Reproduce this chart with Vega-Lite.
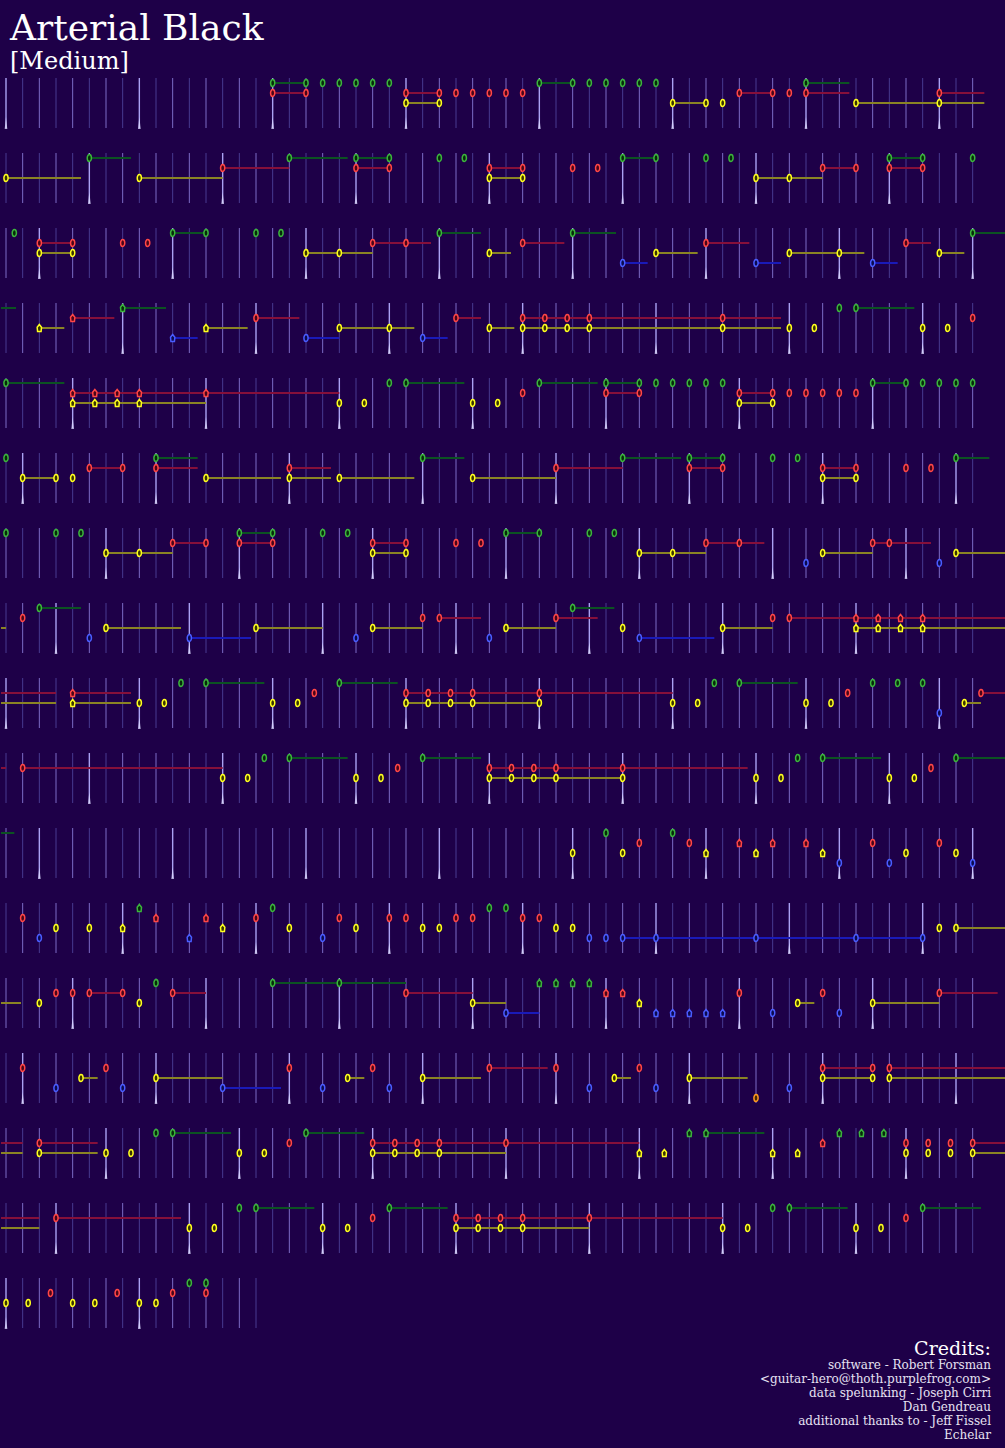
{
"$schema": "https://vega.github.io/schema/vega-lite/v6.json",
"background": "#1e0048",
"padding": {"top": 10, "left": 0, "right": 0, "bottom": 0},
"config": {"view": {"stroke": null}, "concat": {"spacing": 10}},
"title": {"text": "Arterial Black", "subtitle": "[Medium]", "anchor": "start", "dx": 10, "font": "DejaVu Serif", "fontSize": 36, "fontWeight": "normal", "color": "#ffffff", "subtitleFont": "DejaVu Serif", "subtitleFontSize": 24, "subtitleColor": "#ffffff", "subtitlePadding": 2, "offset": 2},
"vconcat": [
{
"bounds": "flush",
"data": {"values": [
{"r":1,"L":[0,1,2,3,4,5,6,7,8,9,10,11,12,13,14,15,16,17,18,19,20,21,22,23,24,25,26,27,28,29,30,31,32,33,34,35,36,37,38,39,40,41,42,43,44,45,46,47,48,49,50,51,52,53,54,55,56,57,58]},
{"r":2,"L":[0,1,2,3,4,5,6,7,8,9,10,11,12,13,14,15,16,17,18,19,20,21,22,23,24,25,26,27,28,29,30,31,32,33,34,35,36,37,38,39,40,41,42,43,44,45,46,47,48,49,50,51,52,53,54,55,56,57,58]},
{"r":3,"L":[0,1,2,3,4,5,6,7,8,9,10,11,12,13,14,15,16,17,18,19,20,21,22,23,24,25,26,27,28,29,30,31,32,33,34,35,36,37,38,39,40,41,42,43,44,45,46,47,48,49,50,51,52,53,54,55,56,57,58]},
{"r":4,"L":[0,1,2,3,4,5,6,7,8,9,10,11,12,13,14,15,16,17,18,19,20,21,22,23,24,25,26,27,28,29,30,31,32,33,34,35,36,37,38,39,40,41,42,43,44,45,46,47,48,49,50,51,52,53,54,55,56,57,58]},
{"r":5,"L":[0,1,2,3,4,5,6,7,8,9,10,11,12,13,14,15,16,17,18,19,20,21,22,23,24,25,26,27,28,29,30,31,32,33,34,35,36,37,38,39,40,41,42,43,44,45,46,47,48,49,50,51,52,53,54,55,56,57,58]},
{"r":6,"L":[0,1,2,3,4,5,6,7,8,9,10,11,12,13,14,15,16,17,18,19,20,21,22,23,24,25,26,27,28,29,30,31,32,33,34,35,36,37,38,39,40,41,42,43,44,45,46,47,48,49,50,51,52,53,54,55,56,57,58]},
{"r":7,"L":[0,1,2,3,4,5,6,7,8,9,10,11,12,13,14,15,16,17,18,19,20,21,22,23,24,25,26,27,28,29,30,31,32,33,34,35,36,37,38,39,40,41,42,43,44,45,46,47,48,49,50,51,52,53,54,55,56,57,58]},
{"r":8,"L":[0,1,2,3,4,5,6,7,8,9,10,11,12,13,14,15,16,17,18,19,20,21,22,23,24,25,26,27,28,29,30,31,32,33,34,35,36,37,38,39,40,41,42,43,44,45,46,47,48,49,50,51,52,53,54,55,56,57,58]},
{"r":9,"L":[0,1,2,3,4,5,6,7,8,9,10,11,12,13,14,15,16,17,18,19,20,21,22,23,24,25,26,27,28,29,30,31,32,33,34,35,36,37,38,39,40,41,42,43,44,45,46,47,48,49,50,51,52,53,54,55,56,57,58]},
{"r":10,"L":[0,1,2,3,4,5,6,7,8,9,10,11,12,13,14,15,16,17,18,19,20,21,22,23,24,25,26,27,28,29,30,31,32,33,34,35,36,37,38,39,40,41,42,43,44,45,46,47,48,49,50,51,52,53,54,55,56,57,58]},
{"r":11,"L":[0,1,2,3,4,5,6,7,8,9,10,11,12,13,14,15,16,17,18,19,20,21,22,23,24,25,26,27,28,29,30,31,32,33,34,35,36,37,38,39,40,41,42,43,44,45,46,47,48,49,50,51,52,53,54,55,56,57,58]},
{"r":12,"L":[0,1,2,3,4,5,6,7,8,9,10,11,12,13,14,15,16,17,18,19,20,21,22,23,24,25,26,27,28,29,30,31,32,33,34,35,36,37,38,39,40,41,42,43,44,45,46,47,48,49,50,51,52,53,54,55,56,57,58]},
{"r":13,"L":[0,1,2,3,4,5,6,7,8,9,10,11,12,13,14,15,16,17,18,19,20,21,22,23,24,25,26,27,28,29,30,31,32,33,34,35,36,37,38,39,40,41,42,43,44,45,46,47,48,49,50,51,52,53,54,55,56,57,58]},
{"r":14,"L":[0,1,2,3,4,5,6,7,8,9,10,11,12,13,14,15,16,17,18,19,20,21,22,23,24,25,26,27,28,29,30,31,32,33,34,35,36,37,38,39,40,41,42,43,44,45,46,47,48,49,50,51,52,53,54,55,56,57,58]},
{"r":15,"L":[0,1,2,3,4,5,6,7,8,9,10,11,12,13,14,15,16,17,18,19,20,21,22,23,24,25,26,27,28,29,30,31,32,33,34,35,36,37,38,39,40,41,42,43,44,45,46,47,48,49,50,51,52,53,54,55,56,57,58]},
{"r":16,"L":[0,1,2,3,4,5,6,7,8,9,10,11,12,13,14,15,16,17,18,19,20,21,22,23,24,25,26,27,28,29,30,31,32,33,34,35,36,37,38,39,40,41,42,43,44,45,46,47,48,49,50,51,52,53,54,55,56,57,58]},
{"r":17,"L":[0,1,2,3,4,5,6,7,8,9,10,11,12,13,14,15]},

{"r":1,"a":16,"e":18,"c":0},{"r":1,"a":16,"e":18,"c":1},{"r":1,"a":24,"e":26,"c":1},{"r":1,"a":24,"e":26,"c":2},{"r":1,"a":32,"e":34,"c":0},{"r":1,"a":40,"e":42,"c":2},{"r":1,"a":44,"e":46,"c":1},{"r":1,"a":48,"e":50.6,"c":1},{"r":1,"a":48,"e":50.6,"c":0},{"r":1,"a":51,"e":56,"c":2},{"r":1,"a":56,"e":58.7,"c":2},{"r":1,"a":56,"e":58.7,"c":1},
{"r":1,"u":16,"c":0},{"r":1,"u":18,"c":0},{"r":1,"u":19,"c":0},{"r":1,"u":20,"c":0},{"r":1,"u":21,"c":0},{"r":1,"u":22,"c":0},{"r":1,"u":23,"c":0},{"r":1,"u":32,"c":0},{"r":1,"u":34,"c":0},{"r":1,"u":35,"c":0},{"r":1,"u":36,"c":0},{"r":1,"u":37,"c":0},{"r":1,"u":38,"c":0},{"r":1,"u":39,"c":0},{"r":1,"u":48,"c":0},
{"r":1,"u":16,"c":1},{"r":1,"u":18,"c":1},{"r":1,"u":24,"c":1},{"r":1,"u":26,"c":1},{"r":1,"u":27,"c":1},{"r":1,"u":28,"c":1},{"r":1,"u":29,"c":1},{"r":1,"u":30,"c":1},{"r":1,"u":31,"c":1},{"r":1,"u":44,"c":1},{"r":1,"u":46,"c":1},{"r":1,"u":47,"c":1},{"r":1,"u":48,"c":1},{"r":1,"u":56,"c":1},
{"r":1,"u":24,"c":2},{"r":1,"u":26,"c":2},{"r":1,"u":40,"c":2},{"r":1,"u":42,"c":2},{"r":1,"u":43,"c":2},{"r":1,"u":51,"c":2},{"r":1,"u":56,"c":2},

{"r":2,"a":0,"e":4.5,"c":2},{"r":2,"a":5,"e":7.5,"c":0},{"r":2,"a":8,"e":13,"c":2},{"r":2,"a":13,"e":17,"c":1},{"r":2,"a":17,"e":20.5,"c":0},{"r":2,"a":21,"e":23,"c":0},{"r":2,"a":21,"e":23,"c":1},{"r":2,"a":29,"e":31,"c":1},{"r":2,"a":29,"e":31,"c":2},{"r":2,"a":37,"e":39,"c":0},{"r":2,"a":45,"e":47,"c":2},{"r":2,"a":47,"e":49,"c":2},{"r":2,"a":49,"e":51,"c":1},{"r":2,"a":53,"e":55,"c":1},{"r":2,"a":53,"e":55,"c":0},
{"r":2,"u":0,"c":2},{"r":2,"u":8,"c":2},{"r":2,"u":29,"c":2},{"r":2,"u":31,"c":2},{"r":2,"u":45,"c":2},{"r":2,"u":47,"c":2},
{"r":2,"u":5,"c":0},{"r":2,"u":17,"c":0},{"r":2,"u":21,"c":0},{"r":2,"u":23,"c":0},{"r":2,"u":26,"c":0},{"r":2,"u":27.5,"c":0},{"r":2,"u":37,"c":0},{"r":2,"u":39,"c":0},{"r":2,"u":42,"c":0},{"r":2,"u":43.5,"c":0},{"r":2,"u":53,"c":0},{"r":2,"u":55,"c":0},{"r":2,"u":58,"c":0},
{"r":2,"u":13,"c":1},{"r":2,"u":21,"c":1},{"r":2,"u":23,"c":1},{"r":2,"u":29,"c":1},{"r":2,"u":31,"c":1},{"r":2,"u":34,"c":1},{"r":2,"u":35.5,"c":1},{"r":2,"u":49,"c":1},{"r":2,"u":51,"c":1},{"r":2,"u":53,"c":1},{"r":2,"u":55,"c":1},

{"r":3,"a":2,"e":4,"c":1},{"r":3,"a":2,"e":4,"c":2},{"r":3,"a":10,"e":12,"c":0},{"r":3,"a":18,"e":20,"c":2},{"r":3,"a":20,"e":22,"c":2},{"r":3,"a":22,"e":24,"c":1},{"r":3,"a":24,"e":25.5,"c":1},{"r":3,"a":26,"e":28.5,"c":0},{"r":3,"a":29,"e":30.3,"c":2},{"r":3,"a":31,"e":33.5,"c":1},{"r":3,"a":34,"e":36.6,"c":0},{"r":3,"a":37,"e":38.5,"c":3},{"r":3,"a":39,"e":41.5,"c":2},{"r":3,"a":42,"e":44.6,"c":1},{"r":3,"a":45,"e":46.5,"c":3},{"r":3,"a":47,"e":50,"c":2},{"r":3,"a":50,"e":51.5,"c":2},{"r":3,"a":52,"e":53.5,"c":3},{"r":3,"a":54,"e":55.5,"c":1},{"r":3,"a":56,"e":57.5,"c":2},{"r":3,"a":58,"e":60,"c":0},
{"r":3,"u":0.5,"c":0},{"r":3,"u":10,"c":0},{"r":3,"u":12,"c":0},{"r":3,"u":15,"c":0},{"r":3,"u":16.5,"c":0},{"r":3,"u":26,"c":0},{"r":3,"u":34,"c":0},{"r":3,"u":58,"c":0},
{"r":3,"u":2,"c":1},{"r":3,"u":4,"c":1},{"r":3,"u":7,"c":1},{"r":3,"u":8.5,"c":1},{"r":3,"u":22,"c":1},{"r":3,"u":24,"c":1},{"r":3,"u":31,"c":1},{"r":3,"u":42,"c":1},{"r":3,"u":54,"c":1},
{"r":3,"u":2,"c":2},{"r":3,"u":4,"c":2},{"r":3,"u":18,"c":2},{"r":3,"u":20,"c":2},{"r":3,"u":29,"c":2},{"r":3,"u":39,"c":2},{"r":3,"u":47,"c":2},{"r":3,"u":50,"c":2},{"r":3,"u":56,"c":2},
{"r":3,"u":37,"c":3},{"r":3,"u":45,"c":3},{"r":3,"u":52,"c":3},

{"r":4,"a":-0.3,"e":0.6,"c":0},{"r":4,"a":2,"e":3.5,"c":2},{"r":4,"a":4,"e":6.5,"c":1},{"r":4,"a":7,"e":9.6,"c":0},{"r":4,"a":10,"e":11.5,"c":3},{"r":4,"a":12,"e":14.5,"c":2},{"r":4,"a":15,"e":17.6,"c":1},{"r":4,"a":18,"e":20,"c":3},{"r":4,"a":20,"e":23,"c":2},{"r":4,"a":23,"e":24.5,"c":2},{"r":4,"a":25,"e":26.5,"c":3},{"r":4,"a":27,"e":28.5,"c":1},{"r":4,"a":29,"e":30.5,"c":2},{"r":4,"a":31,"e":46.5,"c":1},{"r":4,"a":31,"e":46.5,"c":2},{"r":4,"a":51,"e":54.5,"c":0},
{"r":4,"u":2,"c":2,"s":1},{"r":4,"u":4,"c":1,"s":1},{"r":4,"u":7,"c":0,"s":1},{"r":4,"u":10,"c":3,"s":1},{"r":4,"u":12,"c":2,"s":1},{"r":4,"u":15,"c":1},{"r":4,"u":18,"c":3},{"r":4,"u":20,"c":2},{"r":4,"u":23,"c":2},{"r":4,"u":25,"c":3},{"r":4,"u":27,"c":1},{"r":4,"u":29,"c":2},
{"r":4,"u":31,"c":1},{"r":4,"u":32.33,"c":1},{"r":4,"u":33.67,"c":1},{"r":4,"u":35,"c":1},{"r":4,"u":43,"c":1},{"r":4,"u":58,"c":1},
{"r":4,"u":31,"c":2},{"r":4,"u":32.33,"c":2},{"r":4,"u":33.67,"c":2},{"r":4,"u":35,"c":2},{"r":4,"u":43,"c":2},{"r":4,"u":47,"c":2},{"r":4,"u":48.5,"c":2},{"r":4,"u":55,"c":2},{"r":4,"u":56.5,"c":2},
{"r":4,"u":50,"c":0},{"r":4,"u":51,"c":0},

{"r":5,"a":0,"e":3.5,"c":0},{"r":5,"a":4,"e":20,"c":1},{"r":5,"a":4,"e":12,"c":2},{"r":5,"a":24,"e":27.5,"c":0},{"r":5,"a":32,"e":35.5,"c":0},{"r":5,"a":36,"e":38,"c":0},{"r":5,"a":36,"e":38,"c":1},{"r":5,"a":44,"e":46,"c":1},{"r":5,"a":44,"e":46,"c":2},{"r":5,"a":52,"e":54,"c":0},
{"r":5,"u":0,"c":0},{"r":5,"u":23,"c":0},{"r":5,"u":24,"c":0},{"r":5,"u":32,"c":0},{"r":5,"u":36,"c":0},{"r":5,"u":38,"c":0},{"r":5,"u":39,"c":0},{"r":5,"u":40,"c":0},{"r":5,"u":41,"c":0},{"r":5,"u":42,"c":0},{"r":5,"u":43,"c":0},{"r":5,"u":52,"c":0},{"r":5,"u":54,"c":0},{"r":5,"u":55,"c":0},{"r":5,"u":56,"c":0},{"r":5,"u":57,"c":0},{"r":5,"u":58,"c":0},
{"r":5,"u":4,"c":1,"s":1},{"r":5,"u":5.33,"c":1,"s":1},{"r":5,"u":6.67,"c":1,"s":1},{"r":5,"u":8,"c":1,"s":1},{"r":5,"u":12,"c":1,"s":1},{"r":5,"u":31,"c":1},{"r":5,"u":36,"c":1},{"r":5,"u":38,"c":1},{"r":5,"u":44,"c":1},{"r":5,"u":46,"c":1},{"r":5,"u":47,"c":1},{"r":5,"u":48,"c":1},{"r":5,"u":49,"c":1},{"r":5,"u":50,"c":1},{"r":5,"u":51,"c":1},
{"r":5,"u":4,"c":2,"s":1},{"r":5,"u":5.33,"c":2,"s":1},{"r":5,"u":6.67,"c":2,"s":1},{"r":5,"u":8,"c":2,"s":1},{"r":5,"u":20,"c":2},{"r":5,"u":21.5,"c":2},{"r":5,"u":28,"c":2},{"r":5,"u":29.5,"c":2},{"r":5,"u":44,"c":2},{"r":5,"u":46,"c":2},

{"r":6,"a":1,"e":3,"c":2},{"r":6,"a":5,"e":7,"c":1},{"r":6,"a":9,"e":11.5,"c":1},{"r":6,"a":9,"e":11.5,"c":0},{"r":6,"a":12,"e":16.5,"c":2},{"r":6,"a":17,"e":19.5,"c":1},{"r":6,"a":17,"e":19.5,"c":2},{"r":6,"a":20,"e":24.5,"c":2},{"r":6,"a":25,"e":27.5,"c":0},{"r":6,"a":28,"e":33,"c":2},{"r":6,"a":33,"e":37,"c":1},{"r":6,"a":37,"e":40.5,"c":0},{"r":6,"a":41,"e":43,"c":0},{"r":6,"a":41,"e":43,"c":1},{"r":6,"a":49,"e":51,"c":1},{"r":6,"a":49,"e":51,"c":2},{"r":6,"a":57,"e":59,"c":0},
{"r":6,"u":0,"c":0},{"r":6,"u":9,"c":0},{"r":6,"u":25,"c":0},{"r":6,"u":37,"c":0},{"r":6,"u":41,"c":0},{"r":6,"u":43,"c":0},{"r":6,"u":46,"c":0},{"r":6,"u":47.5,"c":0},{"r":6,"u":57,"c":0},
{"r":6,"u":5,"c":1},{"r":6,"u":7,"c":1},{"r":6,"u":9,"c":1},{"r":6,"u":17,"c":1},{"r":6,"u":33,"c":1},{"r":6,"u":41,"c":1},{"r":6,"u":43,"c":1},{"r":6,"u":49,"c":1},{"r":6,"u":51,"c":1},{"r":6,"u":54,"c":1},{"r":6,"u":55.5,"c":1},
{"r":6,"u":1,"c":2},{"r":6,"u":3,"c":2},{"r":6,"u":4,"c":2},{"r":6,"u":12,"c":2},{"r":6,"u":17,"c":2},{"r":6,"u":20,"c":2},{"r":6,"u":28,"c":2},{"r":6,"u":49,"c":2},{"r":6,"u":51,"c":2},

{"r":7,"a":6,"e":8,"c":2},{"r":7,"a":8,"e":10,"c":2},{"r":7,"a":10,"e":12,"c":1},{"r":7,"a":14,"e":16,"c":1},{"r":7,"a":14,"e":16,"c":0},{"r":7,"a":22,"e":24,"c":1},{"r":7,"a":22,"e":24,"c":2},{"r":7,"a":30,"e":32,"c":0},{"r":7,"a":38,"e":40,"c":2},{"r":7,"a":40,"e":42,"c":2},{"r":7,"a":42,"e":44,"c":1},{"r":7,"a":44,"e":45.5,"c":1},{"r":7,"a":49,"e":52,"c":2},{"r":7,"a":52,"e":53,"c":1},{"r":7,"a":53,"e":55.5,"c":1},{"r":7,"a":57,"e":60,"c":2},
{"r":7,"u":0,"c":0},{"r":7,"u":3,"c":0},{"r":7,"u":4.5,"c":0},{"r":7,"u":14,"c":0},{"r":7,"u":16,"c":0},{"r":7,"u":19,"c":0},{"r":7,"u":20.5,"c":0},{"r":7,"u":30,"c":0},{"r":7,"u":32,"c":0},{"r":7,"u":35,"c":0},{"r":7,"u":36.5,"c":0},
{"r":7,"u":10,"c":1},{"r":7,"u":12,"c":1},{"r":7,"u":14,"c":1},{"r":7,"u":16,"c":1},{"r":7,"u":22,"c":1},{"r":7,"u":24,"c":1},{"r":7,"u":27,"c":1},{"r":7,"u":28.5,"c":1},{"r":7,"u":42,"c":1},{"r":7,"u":44,"c":1},{"r":7,"u":52,"c":1},{"r":7,"u":53,"c":1},
{"r":7,"u":6,"c":2},{"r":7,"u":8,"c":2},{"r":7,"u":22,"c":2},{"r":7,"u":24,"c":2},{"r":7,"u":38,"c":2},{"r":7,"u":40,"c":2},{"r":7,"u":49,"c":2},{"r":7,"u":57,"c":2},
{"r":7,"u":48,"c":3},{"r":7,"u":56,"c":3},

{"r":8,"a":-0.3,"e":0,"c":2},{"r":8,"a":2,"e":4.5,"c":0},{"r":8,"a":6,"e":10.5,"c":2},{"r":8,"a":11,"e":14.7,"c":3},{"r":8,"a":15,"e":19,"c":2},{"r":8,"a":22,"e":25,"c":2},{"r":8,"a":26,"e":28.5,"c":1},{"r":8,"a":30,"e":33,"c":2},{"r":8,"a":33,"e":35.5,"c":1},{"r":8,"a":34,"e":36.5,"c":0},{"r":8,"a":38,"e":42.5,"c":3},{"r":8,"a":43,"e":46,"c":2},{"r":8,"a":47,"e":51,"c":1},{"r":8,"a":51,"e":60,"c":1},{"r":8,"a":51,"e":60,"c":2},
{"r":8,"u":1,"c":1},{"r":8,"u":25,"c":1},{"r":8,"u":26,"c":1},{"r":8,"u":33,"c":1},{"r":8,"u":46,"c":1},{"r":8,"u":47,"c":1},{"r":8,"u":51,"c":1,"s":1},{"r":8,"u":52.33,"c":1,"s":1},{"r":8,"u":53.67,"c":1,"s":1},{"r":8,"u":55,"c":1,"s":1},
{"r":8,"u":2,"c":0},{"r":8,"u":34,"c":0},
{"r":8,"u":5,"c":3},{"r":8,"u":11,"c":3},{"r":8,"u":21,"c":3},{"r":8,"u":29,"c":3},{"r":8,"u":38,"c":3},
{"r":8,"u":6,"c":2},{"r":8,"u":15,"c":2},{"r":8,"u":22,"c":2},{"r":8,"u":30,"c":2},{"r":8,"u":37,"c":2},{"r":8,"u":43,"c":2},{"r":8,"u":51,"c":2,"s":1},{"r":8,"u":52.33,"c":2,"s":1},{"r":8,"u":53.67,"c":2,"s":1},{"r":8,"u":55,"c":2,"s":1},

{"r":9,"a":-0.3,"e":3,"c":1},{"r":9,"a":-0.3,"e":3,"c":2},{"r":9,"a":4,"e":7.5,"c":1},{"r":9,"a":4,"e":7.5,"c":2},{"r":9,"a":12,"e":15.5,"c":0},{"r":9,"a":20,"e":23.5,"c":0},{"r":9,"a":24,"e":40,"c":1},{"r":9,"a":24,"e":32,"c":2},{"r":9,"a":44,"e":47.5,"c":0},{"r":9,"a":57.5,"e":58.5,"c":2},{"r":9,"a":58.5,"e":60,"c":1},
{"r":9,"u":4,"c":1,"s":1},{"r":9,"u":4,"c":2,"s":1},
{"r":9,"u":8,"c":2},{"r":9,"u":9.5,"c":2},{"r":9,"u":16,"c":2},{"r":9,"u":17.5,"c":2},{"r":9,"u":24,"c":2},{"r":9,"u":25.33,"c":2},{"r":9,"u":26.67,"c":2},{"r":9,"u":28,"c":2},{"r":9,"u":32,"c":2},{"r":9,"u":40,"c":2},{"r":9,"u":41.5,"c":2},{"r":9,"u":48,"c":2},{"r":9,"u":49.5,"c":2},{"r":9,"u":57.5,"c":2},
{"r":9,"u":10.5,"c":0},{"r":9,"u":12,"c":0},{"r":9,"u":20,"c":0},{"r":9,"u":42.5,"c":0},{"r":9,"u":44,"c":0},{"r":9,"u":52,"c":0},{"r":9,"u":53.5,"c":0},{"r":9,"u":55,"c":0},
{"r":9,"u":18.5,"c":1},{"r":9,"u":24,"c":1},{"r":9,"u":25.33,"c":1},{"r":9,"u":26.67,"c":1},{"r":9,"u":28,"c":1},{"r":9,"u":32,"c":1},{"r":9,"u":50.5,"c":1},{"r":9,"u":58.5,"c":1},
{"r":9,"u":56,"c":3},

{"r":10,"a":-0.3,"e":0,"c":1},{"r":10,"a":1,"e":13,"c":1},{"r":10,"a":17,"e":20.5,"c":0},{"r":10,"a":25,"e":28.5,"c":0},{"r":10,"a":29,"e":44.5,"c":1},{"r":10,"a":29,"e":37,"c":2},{"r":10,"a":49,"e":52.5,"c":0},{"r":10,"a":57,"e":60,"c":0},
{"r":10,"u":1,"c":1},{"r":10,"u":23.5,"c":1},{"r":10,"u":29,"c":1},{"r":10,"u":30.33,"c":1},{"r":10,"u":31.67,"c":1},{"r":10,"u":33,"c":1},{"r":10,"u":37,"c":1},{"r":10,"u":55.5,"c":1},
{"r":10,"u":13,"c":2},{"r":10,"u":14.5,"c":2},{"r":10,"u":21,"c":2},{"r":10,"u":22.5,"c":2},{"r":10,"u":29,"c":2},{"r":10,"u":30.33,"c":2},{"r":10,"u":31.67,"c":2},{"r":10,"u":33,"c":2},{"r":10,"u":37,"c":2},{"r":10,"u":45,"c":2},{"r":10,"u":46.5,"c":2},{"r":10,"u":53,"c":2},{"r":10,"u":54.5,"c":2},
{"r":10,"u":15.5,"c":0},{"r":10,"u":17,"c":0},{"r":10,"u":25,"c":0},{"r":10,"u":47.5,"c":0},{"r":10,"u":49,"c":0},{"r":10,"u":57,"c":0},

{"r":11,"a":-0.3,"e":0.5,"c":0},
{"r":11,"u":34,"c":2},{"r":11,"u":37,"c":2},{"r":11,"u":54,"c":2},{"r":11,"u":57,"c":2},{"r":11,"u":42,"c":2,"s":1},{"r":11,"u":45,"c":2,"s":1},{"r":11,"u":49,"c":2,"s":1},
{"r":11,"u":36,"c":0},{"r":11,"u":40,"c":0},
{"r":11,"u":38,"c":1},{"r":11,"u":41,"c":1},{"r":11,"u":52,"c":1},{"r":11,"u":56,"c":1},{"r":11,"u":44,"c":1,"s":1},{"r":11,"u":46,"c":1,"s":1},{"r":11,"u":48,"c":1,"s":1},
{"r":11,"u":50,"c":3},{"r":11,"u":53,"c":3},{"r":11,"u":58,"c":3},

{"r":12,"a":37,"e":55,"c":3},{"r":12,"a":57,"e":60,"c":2},
{"r":12,"u":1,"c":1},{"r":12,"u":15,"c":1},{"r":12,"u":20,"c":1},{"r":12,"u":23,"c":1},{"r":12,"u":24,"c":1},{"r":12,"u":27,"c":1},{"r":12,"u":28,"c":1},{"r":12,"u":31,"c":1},{"r":12,"u":32,"c":1},{"r":12,"u":9,"c":1,"s":1},{"r":12,"u":12,"c":1,"s":1},
{"r":12,"u":2,"c":3},{"r":12,"u":19,"c":3},{"r":12,"u":35,"c":3},{"r":12,"u":36,"c":3},{"r":12,"u":37,"c":3},{"r":12,"u":39,"c":3},{"r":12,"u":45,"c":3},{"r":12,"u":51,"c":3},{"r":12,"u":55,"c":3},{"r":12,"u":11,"c":3,"s":1},
{"r":12,"u":3,"c":2},{"r":12,"u":5,"c":2},{"r":12,"u":17,"c":2},{"r":12,"u":21,"c":2},{"r":12,"u":25,"c":2},{"r":12,"u":26,"c":2},{"r":12,"u":33,"c":2},{"r":12,"u":34,"c":2},{"r":12,"u":56,"c":2},{"r":12,"u":57,"c":2},{"r":12,"u":7,"c":2,"s":1},{"r":12,"u":13,"c":2,"s":1},
{"r":12,"u":16,"c":0},{"r":12,"u":29,"c":0},{"r":12,"u":30,"c":0},{"r":12,"u":8,"c":0,"s":1},

{"r":13,"a":-0.3,"e":0.9,"c":2},{"r":13,"a":5,"e":7,"c":1},{"r":13,"a":10,"e":12,"c":1},{"r":13,"a":16,"e":20,"c":0},{"r":13,"a":20,"e":24,"c":0},{"r":13,"a":24,"e":28,"c":1},{"r":13,"a":28,"e":30,"c":2},{"r":13,"a":30,"e":32,"c":3},{"r":13,"a":47.5,"e":48.5,"c":2},{"r":13,"a":52,"e":56,"c":2},{"r":13,"a":56,"e":59.5,"c":1},
{"r":13,"u":2,"c":2},{"r":13,"u":8,"c":2},{"r":13,"u":28,"c":2},{"r":13,"u":47.5,"c":2},{"r":13,"u":52,"c":2},{"r":13,"u":38,"c":2,"s":1},
{"r":13,"u":3,"c":1},{"r":13,"u":4,"c":1},{"r":13,"u":5,"c":1},{"r":13,"u":7,"c":1},{"r":13,"u":10,"c":1},{"r":13,"u":24,"c":1},{"r":13,"u":44,"c":1},{"r":13,"u":49,"c":1},{"r":13,"u":56,"c":1},{"r":13,"u":36,"c":1,"s":1},{"r":13,"u":37,"c":1,"s":1},
{"r":13,"u":9,"c":0},{"r":13,"u":16,"c":0},{"r":13,"u":20,"c":0},{"r":13,"u":32,"c":0,"s":1},{"r":13,"u":33,"c":0,"s":1},{"r":13,"u":34,"c":0,"s":1},{"r":13,"u":35,"c":0,"s":1},
{"r":13,"u":30,"c":3},{"r":13,"u":46,"c":3},{"r":13,"u":50,"c":3},{"r":13,"u":39,"c":3,"s":1},{"r":13,"u":40,"c":3,"s":1},{"r":13,"u":41,"c":3,"s":1},{"r":13,"u":42,"c":3,"s":1},{"r":13,"u":43,"c":3,"s":1},

{"r":14,"a":4.5,"e":5.5,"c":2},{"r":14,"a":9,"e":13,"c":2},{"r":14,"a":13,"e":16.5,"c":3},{"r":14,"a":20.5,"e":21.5,"c":2},{"r":14,"a":25,"e":28.5,"c":2},{"r":14,"a":29,"e":32.5,"c":1},{"r":14,"a":36.5,"e":37.5,"c":2},{"r":14,"a":41,"e":44.5,"c":2},{"r":14,"a":49,"e":52,"c":1},{"r":14,"a":49,"e":52,"c":2},{"r":14,"a":53,"e":60,"c":1},{"r":14,"a":53,"e":60,"c":2},
{"r":14,"u":1,"c":1},{"r":14,"u":6,"c":1},{"r":14,"u":17,"c":1},{"r":14,"u":22,"c":1},{"r":14,"u":29,"c":1},{"r":14,"u":33,"c":1},{"r":14,"u":38,"c":1},{"r":14,"u":49,"c":1},{"r":14,"u":52,"c":1},{"r":14,"u":53,"c":1},
{"r":14,"u":3,"c":3},{"r":14,"u":7,"c":3},{"r":14,"u":13,"c":3},{"r":14,"u":19,"c":3},{"r":14,"u":23,"c":3},{"r":14,"u":35,"c":3},{"r":14,"u":39,"c":3},{"r":14,"u":47,"c":3},
{"r":14,"u":4.5,"c":2},{"r":14,"u":9,"c":2},{"r":14,"u":20.5,"c":2},{"r":14,"u":25,"c":2},{"r":14,"u":36.5,"c":2},{"r":14,"u":41,"c":2},{"r":14,"u":49,"c":2},{"r":14,"u":52,"c":2},{"r":14,"u":53,"c":2},
{"r":14,"u":45,"c":4},

{"r":15,"a":-0.3,"e":1,"c":1},{"r":15,"a":-0.3,"e":1,"c":2},{"r":15,"a":2,"e":5.5,"c":1},{"r":15,"a":2,"e":5.5,"c":2},{"r":15,"a":10,"e":13.5,"c":0},{"r":15,"a":18,"e":21.5,"c":0},{"r":15,"a":22,"e":38,"c":1},{"r":15,"a":22,"e":30,"c":2},{"r":15,"a":42,"e":45.5,"c":0},{"r":15,"a":58,"e":60,"c":1},{"r":15,"a":58,"e":60,"c":2},
{"r":15,"u":2,"c":1},{"r":15,"u":17,"c":1},{"r":15,"u":22,"c":1},{"r":15,"u":23.33,"c":1},{"r":15,"u":24.67,"c":1},{"r":15,"u":26,"c":1},{"r":15,"u":30,"c":1},{"r":15,"u":54,"c":1},{"r":15,"u":55.33,"c":1},{"r":15,"u":56.67,"c":1},{"r":15,"u":58,"c":1},{"r":15,"u":49,"c":1,"s":1},
{"r":15,"u":2,"c":2},{"r":15,"u":6,"c":2},{"r":15,"u":7.5,"c":2},{"r":15,"u":14,"c":2},{"r":15,"u":15.5,"c":2},{"r":15,"u":22,"c":2},{"r":15,"u":23.33,"c":2},{"r":15,"u":24.67,"c":2},{"r":15,"u":26,"c":2},{"r":15,"u":54,"c":2},{"r":15,"u":55.33,"c":2},{"r":15,"u":56.67,"c":2},{"r":15,"u":58,"c":2},{"r":15,"u":38,"c":2,"s":1},{"r":15,"u":39.5,"c":2,"s":1},{"r":15,"u":46,"c":2,"s":1},{"r":15,"u":47.5,"c":2,"s":1},
{"r":15,"u":9,"c":0},{"r":15,"u":10,"c":0},{"r":15,"u":18,"c":0},{"r":15,"u":41,"c":0,"s":1},{"r":15,"u":42,"c":0,"s":1},{"r":15,"u":50,"c":0,"s":1},{"r":15,"u":51.33,"c":0,"s":1},{"r":15,"u":52.67,"c":0,"s":1},

{"r":16,"a":-0.3,"e":2,"c":1},{"r":16,"a":-0.3,"e":2,"c":2},{"r":16,"a":3,"e":10.5,"c":1},{"r":16,"a":15,"e":18.5,"c":0},{"r":16,"a":23,"e":26.5,"c":0},{"r":16,"a":27,"e":43,"c":1},{"r":16,"a":27,"e":35,"c":2},{"r":16,"a":47,"e":50.5,"c":0},{"r":16,"a":55,"e":58.5,"c":0},
{"r":16,"u":3,"c":1},{"r":16,"u":22,"c":1},{"r":16,"u":27,"c":1},{"r":16,"u":28.33,"c":1},{"r":16,"u":29.67,"c":1},{"r":16,"u":31,"c":1},{"r":16,"u":35,"c":1},{"r":16,"u":54,"c":1},
{"r":16,"u":11,"c":2},{"r":16,"u":12.5,"c":2},{"r":16,"u":19,"c":2},{"r":16,"u":20.5,"c":2},{"r":16,"u":27,"c":2},{"r":16,"u":28.33,"c":2},{"r":16,"u":29.67,"c":2},{"r":16,"u":31,"c":2},{"r":16,"u":43,"c":2},{"r":16,"u":44.5,"c":2},{"r":16,"u":51,"c":2},{"r":16,"u":52.5,"c":2},
{"r":16,"u":14,"c":0},{"r":16,"u":15,"c":0},{"r":16,"u":23,"c":0},{"r":16,"u":46,"c":0},{"r":16,"u":47,"c":0},{"r":16,"u":55,"c":0},

{"r":17,"u":0,"c":2},{"r":17,"u":1.33,"c":2},{"r":17,"u":4,"c":2},{"r":17,"u":5.33,"c":2},{"r":17,"u":8,"c":2},{"r":17,"u":9,"c":2},
{"r":17,"u":2.67,"c":1},{"r":17,"u":6.67,"c":1},{"r":17,"u":10,"c":1},{"r":17,"u":12,"c":1},
{"r":17,"u":11,"c":0},{"r":17,"u":12,"c":0}
]},
"facet": {"row": {"field": "r", "type": "ordinal", "header": null}},
"spacing": {"row": 25},
"spec": {
"width": 1005, "height": 50,
"layer": [
{"transform": [{"filter": "isArray(datum.L)"}, {"flatten": ["L"]}],
 "mark": {"type": "rule"},
 "encoding": {
  "x": {"field": "L", "type": "quantitative", "scale": {"domain": [-0.3, 60], "nice": false, "zero": false}, "axis": null},
  "color": {"condition": [{"test": "(59*(datum.r-1)+datum.L)%8==0", "value": "#aaa2f4"}, {"test": "(59*(datum.r-1)+datum.L)%2==0", "value": "#7c6cc6"}], "value": "#483a90"},
  "strokeWidth": {"condition": {"test": "(59*(datum.r-1)+datum.L)%8==0", "value": 1.4}, "value": 1}
 }},
{"transform": [{"filter": "isArray(datum.L)"}, {"flatten": ["L"]}, {"filter": "(59*(datum.r-1)+datum.L)%8==0"}],
 "mark": {"type": "point", "shape": "M0,-1L0.22,1L-0.22,1Z", "filled": true, "size": 144, "color": "#dcd8ff", "opacity": 0.8, "strokeWidth": 0},
 "encoding": {
  "x": {"field": "L", "type": "quantitative", "scale": {"domain": [-0.3, 60], "nice": false, "zero": false}, "axis": null},
  "y": {"datum": 4, "type": "ordinal", "scale": {"type": "point", "domain": [0,1,2,3,4], "padding": 0.5}, "axis": null}
 }},
{"transform": [{"filter": "datum.e!=null"}],
 "mark": {"type": "rule", "strokeWidth": 2},
 "encoding": {
  "x": {"field": "a", "type": "quantitative", "scale": {"domain": [-0.3, 60], "nice": false, "zero": false}, "axis": null},
  "x2": {"field": "e"},
  "y": {"field": "c", "type": "ordinal", "scale": {"type": "point", "domain": [0,1,2,3,4], "padding": 0.5}, "axis": null},
  "color": {"field": "c", "type": "nominal", "scale": {"domain": [0,1,2,3,4], "range": ["#0c5222", "#86103a", "#8a8424", "#1a1ab8", "#9a5a10"]}, "legend": null}
 }},
{"transform": [{"filter": "datum.u!=null"}],
 "mark": {"type": "point", "filled": true, "size": 49, "strokeWidth": 1.5, "opacity": 1},
 "encoding": {
  "x": {"field": "u", "type": "quantitative", "scale": {"domain": [-0.3, 60], "nice": false, "zero": false}, "axis": null},
  "y": {"field": "c", "type": "ordinal", "scale": {"type": "point", "domain": [0,1,2,3,4], "padding": 0.5}, "axis": null},
  "stroke": {"field": "c", "type": "nominal", "scale": {"domain": [0,1,2,3,4], "range": ["#3cb43c", "#ff4646", "#ffff1e", "#4a5cff", "#ff9a20"]}, "legend": null},
  "fill": {"field": "c", "type": "nominal", "scale": {"domain": [0,1,2,3,4], "range": ["#062a0a", "#4a0418", "#3a3400", "#0a0a50", "#4a2a00"]}, "legend": null},
  "shape": {"condition": {"test": "datum.s==1", "value": "M0,-1L0.62,-0.2L0.5,1L-0.5,1L-0.62,-0.2Z"}, "value": "M0,-1C0.33,-1 0.6,-0.55 0.6,0C0.6,0.55 0.33,1 0,1C-0.33,1 -0.6,0.55 -0.6,0C-0.6,-0.55 -0.33,-1 0,-1Z"}
 }}
]
}
},
{
"width": 990, "height": 1,
"data": {"values": [{}]},
"mark": {"type": "text", "text": ""},
"title": {"text": "Credits:", "subtitle": ["software - Robert Forsman", "<guitar-hero@thoth.purplefrog.com>", "data spelunking - Joseph Cirri", "Dan Gendreau", "additional thanks to - Jeff Fissel", "Echelar"], "anchor": "end", "font": "DejaVu Serif", "fontSize": 19, "fontWeight": "normal", "color": "#ffffff", "subtitleFont": "DejaVu Serif", "subtitleFontSize": 12, "subtitleColor": "#e6e2f2", "subtitleLineHeight": 14, "subtitlePadding": 1, "offset": 0}
}
]
}
